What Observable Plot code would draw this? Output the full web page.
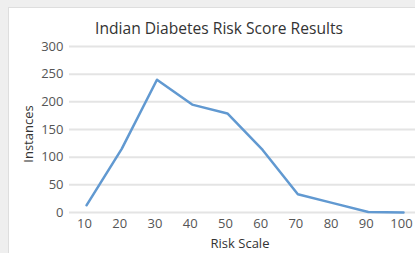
<!DOCTYPE html>
<html><head><meta charset="utf-8">
<script src="https://cdn.jsdelivr.net/npm/d3@7"></script>
<script src="https://cdn.jsdelivr.net/npm/@observablehq/plot@0.6"></script>
<style>
html,body{margin:0;padding:0;background:#efefef;width:415px;height:253px;overflow:hidden;font-family:"Open Sans",sans-serif;}
#card{position:absolute;left:8px;top:7px;width:420px;height:260px;background:#fff;border:1px solid #dedede;box-sizing:border-box;}
#chart{position:absolute;left:0;top:0;}
.lbl{position:absolute;color:#333;white-space:nowrap;}
#title{left:0;width:438px;text-align:center;top:17px;font-size:15.6px;}
#xl{left:0;width:480px;text-align:center;top:237px;font-size:13px;line-height:13px;}
#yl{left:28px;top:134px;font-size:13px;transform:translate(-50%,-50%) rotate(-90deg);}
</style></head>
<body>
<div id="card"></div>
<div id="chart"></div>
<div class="lbl" id="title">Indian Diabetes Risk Score Results</div>
<div class="lbl" id="xl">Risk Scale</div>
<div class="lbl" id="yl">Instances</div>
<script>
const riskScale = [10, 20, 30, 40, 50, 60, 70, 80, 90, 100];
const instances = [13, 115, 240, 195, 179, 113, 33, 17, 1, 0];
const yTicks = [0, 50, 100, 150, 200, 250, 300];
const data = riskScale.map((x, i) => ({x, y: instances[i]}));
const chart = Plot.plot({
  width: 415, height: 253,
  marginLeft: 69, marginRight: 0, marginTop: 46, marginBottom: 41,
  style: {background: "transparent", fontFamily: "Open Sans, sans-serif", fontSize: "13px", color: "#555"},
  x: {domain: [5.17, 103.4], ticks: riskScale, tickSize: 0, tickPadding: 6, label: null},
  y: {domain: [0, 300], ticks: yTicks, tickSize: 0, tickPadding: 6, label: null},
  marks: [
    Plot.gridY(yTicks, {stroke: "#e4e4e4", strokeOpacity: 1, strokeWidth: 2}),
    Plot.axisY(yTicks, {tickSize: 0, tickPadding: 6, fill: "#555", fontSize: 13, label: null}),
    Plot.axisX(riskScale, {tickSize: 0, tickPadding: 6, fill: "#555", fontSize: 13, dx: -2, label: null}),
    Plot.line(data, {x: "x", y: "y", stroke: "#6199d1", strokeWidth: 2.5})
  ]
});
document.getElementById("chart").append(chart);
</script>
</body></html>
